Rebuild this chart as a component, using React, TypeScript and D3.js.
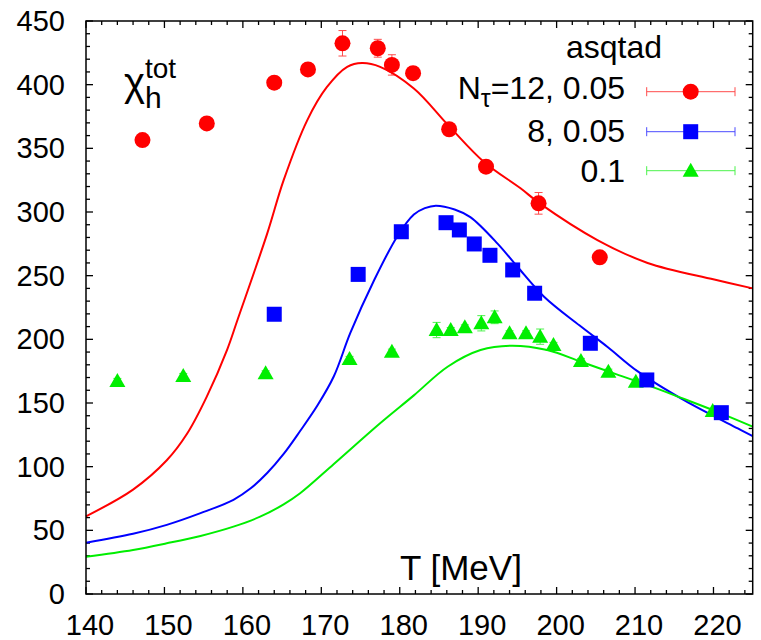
import React from "react";
import * as d3 from "d3";

// ---- data ----
const xTicks = [140, 150, 160, 170, 180, 190, 200, 210, 220];
const yTicks = [0, 50, 100, 150, 200, 250, 300, 350, 400, 450];

// N_tau = 12, m = 0.05 (red circles)
const redT = [147.2, 155.4, 164.0, 168.3, 172.7, 177.2, 179.0, 181.7, 186.3, 191.0, 197.7, 205.5];
const redV = [356.5, 369.6, 401.6, 412.0, 432.5, 428.6, 415.5, 409.0, 365.0, 335.6, 306.8, 264.4];
const redE = [2, 2, 2, 2, 10, 7, 8, 5, 2, 2, 8.5, 2];

// N_tau = 8, m = 0.05 (blue squares)
const blueT = [164.0, 174.7, 180.2, 185.9, 187.6, 189.5, 191.5, 194.4, 197.2, 204.3, 211.5, 221.0];
const blueV = [219.7, 251.0, 284.5, 291.6, 285.9, 274.9, 266.0, 254.5, 236.2, 196.9, 168.1, 142.4];
const blueE = [2, 2, 2, 2, 2, 2, 2, 2, 2, 2, 2, 2];

// N_tau = 8, m = 0.1 (green triangles)
const greenT = [144.0, 152.4, 162.9, 173.6, 179.0, 184.7, 186.5, 188.3, 190.4, 192.1, 194.0, 196.1, 197.9, 199.6, 203.1, 206.6, 210.1, 219.9];
const greenV = [167.3, 171.2, 173.3, 184.6, 190.3, 207.3, 207.3, 209.4, 212.6, 217.3, 204.7, 204.7, 202.1, 195.6, 183.0, 174.6, 166.7, 143.7];
const greenE = [2, 2, 2, 2, 2, 6, 2, 2, 6, 5, 2, 2, 6, 2, 2, 2, 2, 2];

// fit curves
const redCurveT = [140, 146, 150.3, 152.9, 155.4, 158, 159.3, 163.1, 165.2, 168.2, 170.7, 173.3, 175.2, 177.5, 181.8, 186.2, 190.7, 195.4, 197.8, 205.2, 211.6, 220.1, 225];
const redCurveV = [61, 82, 105, 126, 155, 192, 215, 283, 325, 372, 398, 414, 417, 414, 397, 368, 339.5, 318.6, 307, 278, 260, 247, 240];

const blueCurveT = [140, 146.0, 150.3, 154.6, 158.8, 161, 163.1, 165.2, 167.3, 169.5, 171.6, 173.7, 176.7, 179.7, 181.8, 183.2, 184.6, 187, 189, 192.5, 195, 198.4, 202.9, 206.5, 210.3, 216.3, 223.1, 225];
const blueCurveV = [40.3, 47.3, 54.3, 63.5, 74, 83, 95, 110, 128, 148, 171, 205, 246, 281, 298, 303, 305, 302, 296, 275, 257, 233.5, 211, 194, 175, 152, 130, 124];

const greenCurveT = [140, 146.0, 150.3, 154.6, 158.8, 162.2, 165.2, 167.3, 171.6, 177.5, 181.8, 186.1, 190.3, 194.2, 198.8, 203.1, 207.3, 211.6, 215.9, 220.1, 225];
const greenCurveV = [29.3, 34.6, 39.8, 45.6, 52.9, 60.7, 70.4, 79.1, 102.1, 134.1, 156, 178.5, 191.6, 195, 191.6, 182.4, 173.3, 164, 154, 144, 131.4];

const RED = "#ff0000";
const BLUE = "#0000ff";
const GREEN = "#00ee00";
const FONT = "'Liberation Sans', Arial, Helvetica, sans-serif";

const W = 761;
const H = 640;
const M = { left: 86, right: 752.7, top: 21, bottom: 594 };

function Marker({ kind, cx, cy, color }: { kind: string; cx: number; cy: number; color: string }) {
  if (kind === "circle") return <circle cx={cx} cy={cy} r={8} fill={color} />;
  if (kind === "square") return <rect x={cx - 7.5} y={cy - 7.5} width={15} height={15} fill={color} />;
  const s = 8;
  return <path d={`M${cx},${cy - s} L${cx + s},${cy + 6} L${cx - s},${cy + 6} Z`} fill={color} />;
}

export default function App() {
  const x = d3.scaleLinear().domain([140, 225]).range([M.left, M.right]);
  const y = d3.scaleLinear().domain([0, 450]).range([M.bottom, M.top]);

  const line = d3
    .line<[number, number]>()
    .x((d) => x(d[0]))
    .y((d) => y(d[1]))
    .curve(d3.curveCatmullRom.alpha(0.5));

  const curves = [
    { T: redCurveT, V: redCurveV, c: RED },
    { T: blueCurveT, V: blueCurveV, c: BLUE },
    { T: greenCurveT, V: greenCurveV, c: GREEN },
  ];

  const series = [
    { T: greenT, V: greenV, E: greenE, c: GREEN, kind: "triangle" },
    { T: blueT, V: blueV, E: blueE, c: BLUE, kind: "square" },
    { T: redT, V: redV, E: redE, c: RED, kind: "circle" },
  ];

  const xMinor = d3.range(140, 225.01, 2);
  const yMinor = d3.range(0, 450.01, 10);

  const legend = [
    { c: RED, kind: "circle", y: 91.7 },
    { c: BLUE, kind: "square", y: 131.7 },
    { c: GREEN, kind: "triangle", y: 170.7 },
  ];

  return (
    <div style={{ position: "absolute", left: 0, top: 0 }}>
      <svg width={W} height={H} style={{ display: "block", background: "#fff" }} fontFamily={FONT}>
        <rect width={W} height={H} fill="#fff" />
        {/* ticks */}
        <g stroke="#000" strokeWidth={1.3}>
          {xMinor.map((t) => {
            const major = t % 10 === 0;
            const L = major ? 7 : 4;
            return (
              <g key={"x" + t}>
                <line x1={x(t)} x2={x(t)} y1={M.bottom} y2={M.bottom - L} />
                <line x1={x(t)} x2={x(t)} y1={M.top} y2={M.top + L} />
              </g>
            );
          })}
          {yMinor.map((t) => {
            const major = t % 50 === 0;
            const L = major ? 7 : 4;
            return (
              <g key={"y" + t}>
                <line x1={M.left} x2={M.left + L} y1={y(t)} y2={y(t)} />
                <line x1={M.right} x2={M.right - L} y1={y(t)} y2={y(t)} />
              </g>
            );
          })}
        </g>
        {/* tick labels */}
        <g fontSize={29} fill="#000">
          {xTicks.map((t) => (
            <text key={"xl" + t} x={x(t) + 4} y={635} textAnchor="middle">
              {t}
            </text>
          ))}
          {yTicks.map((t) => (
            <text key={"yl" + t} x={65} y={y(t) + 10} textAnchor="end">
              {t}
            </text>
          ))}
        </g>

        {/* curves */}
        {curves.map((cv, i) => (
          <path
            key={"c" + i}
            d={line(cv.T.map((t, j) => [t, cv.V[j]] as [number, number])) || ""}
            fill="none"
            stroke={cv.c}
            strokeWidth={2}
          />
        ))}

        {/* data */}
        {series.map((s, i) => (
          <g key={"s" + i}>
            {s.T.map((t, j) => {
              const cx = x(t);
              const y1 = y(s.V[j] - s.E[j]);
              const y2 = y(s.V[j] + s.E[j]);
              return (
                <g key={j}>
                  <g stroke={s.c} strokeWidth={1} opacity={0.7}>
                    <line x1={cx} x2={cx} y1={y1} y2={y2} />
                    <line x1={cx - 4} x2={cx + 4} y1={y1} y2={y1} />
                    <line x1={cx - 4} x2={cx + 4} y1={y2} y2={y2} />
                  </g>
                  <Marker kind={s.kind} cx={cx} cy={y(s.V[j])} color={s.c} />
                </g>
              );
            })}
          </g>
        ))}

        {/* frame */}
        <rect
          x={M.left}
          y={M.top}
          width={M.right - M.left}
          height={M.bottom - M.top}
          fill="none"
          stroke="#000"
          strokeWidth={1.5}
        />

        {/* legend */}
        <text x={662} y={58} fontSize={32} textAnchor="end">asqtad</text>
        <text x={625} y={99} fontSize={32} textAnchor="end">
          N<tspan dy={8} fontSize={25}>τ</tspan>
          <tspan dy={-8}>=12, 0.05</tspan>
        </text>
        <text x={625} y={142} fontSize={32} textAnchor="end">8, 0.05</text>
        <text x={625} y={182} fontSize={32} textAnchor="end">0.1</text>
        {legend.map((l, i) => (
          <g key={"lg" + i}>
            <g stroke={l.c} strokeWidth={1} opacity={0.7}>
              <line x1={646.7} x2={735} y1={l.y} y2={l.y} />
              <line x1={646.7} x2={646.7} y1={l.y - 4.5} y2={l.y + 4.5} />
              <line x1={735} x2={735} y1={l.y - 4.5} y2={l.y + 4.5} />
            </g>
            <Marker kind={l.kind} cx={690.7} cy={l.y} color={l.c} />
          </g>
        ))}

        {/* labels */}
        <text x={124} y={96} fontSize={40}>χ</text>
        <text x={145} y={108} fontSize={30}>h</text>
        <text x={145} y={78} fontSize={28}>tot</text>
        <text x={400} y={580} fontSize={35}>T [MeV]</text>
      </svg>
    </div>
  );
}
